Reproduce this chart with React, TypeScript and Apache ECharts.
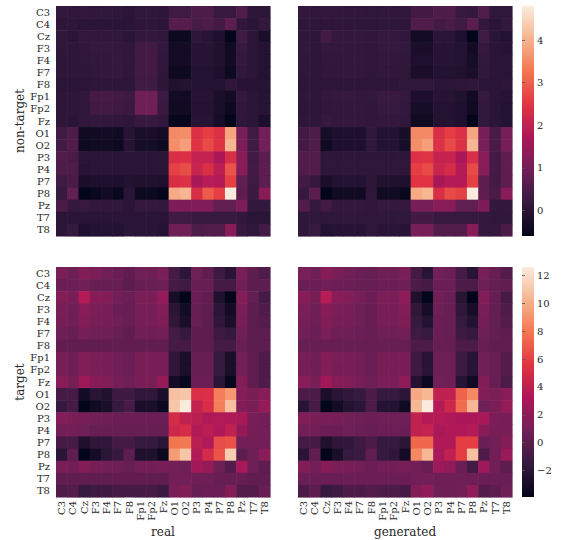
import React, { useEffect, useRef } from "react";
import * as echarts from "echarts";

const channels = ["C3","C4","Cz","F3","F4","F7","F8","Fp1","Fp2","Fz","O1","O2","P3","P4","P7","P8","Pz","T7","T8"];

const ntReal = [
  [0.12,0.1,0.12,0.1,0.08,0.08,0.02,0.08,0.08,0.05, 0.3,0.3, 0.5,0.5, 0.2,0.2, 0.55, 0.05,0.05],
  [0.05,0.05,0.0,0.0,0.0,0.0,0.0,0.05,0.05,0.0, 0.6,0.6, 0.4,0.5, 0.35,0.7, 0.1, 0.0,0.12],
  [0.08,0.02,0.15,0.12,0.1,0.1,0.02,0.12,0.12,0.08, -0.45,-0.45, 0.05,-0.05, -0.2,-0.6, 0.3, 0.0,-0.25],
  [0.08,0.05,0.1,0.15,0.15,0.12,0.08,0.35,0.35,0.12, -0.35,-0.35, -0.05,-0.05,-0.15,-0.4, 0.2, 0.02,-0.1],
  [0.06,0.05,0.08,0.12,0.12,0.15,0.1,0.35,0.35,0.1, -0.35,-0.35, -0.05,-0.05,-0.15,-0.35, 0.15, 0.02,-0.1],
  [0.05,0.05,0.05,0.1,0.12,0.15,0.08,0.35,0.35,0.08, -0.45,-0.45, -0.1,-0.1,-0.2,-0.45, 0.1, 0.0,-0.1],
  [0.0,0.0,0.02,0.05,0.05,0.05,0.05,0.3,0.3,0.05, -0.15,-0.1, -0.1,-0.1,-0.1,0.05, -0.05, -0.05,-0.05],
  [0.05,0.05,0.1,0.38,0.38,0.35,0.25,0.92,0.92,0.25, -0.35,-0.35, -0.05,-0.05,-0.25,-0.35, 0.15, 0.0,-0.05],
  [0.05,0.05,0.08,0.32,0.32,0.3,0.22,0.9,0.9,0.22, -0.4,-0.4, -0.08,-0.08,-0.25,-0.45, 0.1, 0.0,-0.05],
  [0.05,0.0,0.1,0.12,0.1,0.1,0.05,0.2,0.2,0.1, -0.55,-0.55, -0.05,-0.05,-0.3,-0.6, 0.08, 0.0,-0.25],
  [0.3,0.5,-0.4,-0.4,-0.35,-0.4,-0.05,-0.25,-0.25,-0.35, 3.5,3.55, 2.4,2.6,2.4,3.85, 1.05, 0.3,0.95],
  [0.35,0.55,-0.45,-0.4,-0.4,-0.45,-0.05,-0.3,-0.3,-0.45, 3.55,3.75, 2.45,2.75,2.45,4.05, 1.1, 0.3,0.95],
  [0.55,0.45,0.0,0.0,0.0,0.0,0.0,0.0,0.0,0.0, 2.35,2.4, 2.05,2.05,1.7,2.35, 1.25, 0.3,0.65],
  [0.5,0.5,-0.05,0.0,0.0,0.0,0.0,0.0,0.0,0.0, 2.65,2.8, 2.1,2.35,1.9,2.85, 1.25, 0.35,0.7],
  [0.3,0.45,-0.25,-0.2,-0.2,-0.2,-0.1,-0.15,-0.15,-0.2, 2.35,2.4, 1.65,1.85,1.8,2.65, 0.75, 0.3,0.7],
  [0.2,0.75,-0.6,-0.5,-0.35,-0.5,0.0,-0.45,-0.45,-0.58, 3.9,4.05, 2.35,2.95,2.65,4.8, 0.7, 0.25,1.25],
  [0.45,0.15,0.2,0.12,0.1,0.1,0.0,0.15,0.15,0.12, 1.1,1.1, 1.15,1.15,0.75,0.75, 1.1, 0.12,0.12],
  [0.0,0.0,0.0,0.0,0.0,0.0,0.0,0.0,0.0,0.0, 0.3,0.3, 0.2,0.2,0.2,0.2, 0.12, 0.0,0.0],
  [0.0,0.15,-0.2,-0.1,-0.1,-0.1,0.0,0.0,0.0,-0.1, 0.9,0.9, 0.5,0.55,0.55,1.25, 0.2, 0.08,0.35],
];

const ntGen = [
  [0.12,0.1,0.12,0.12,0.1,0.1,0.08,0.1,0.1,0.08, 0.35,0.35, 0.5,0.5, 0.2,0.15, 0.55, 0.08,0.08],
  [0.05,0.05,0.05,0.05,0.05,0.05,0.05,0.05,0.05,0.05, 0.55,0.55, 0.35,0.45, 0.3,0.65, 0.12, 0.02,0.12],
  [0.08,0.05,0.35,0.15,0.12,0.12,0.1,0.15,0.15,0.1, -0.35,-0.35, 0.0,0.0, -0.2,-0.6, 0.3, 0.02,-0.1],
  [0.1,0.05,0.15,0.15,0.12,0.12,0.1,0.15,0.15,0.12, -0.25,-0.25, -0.05,-0.05,-0.1,-0.35, 0.15, 0.0,-0.05],
  [0.08,0.05,0.12,0.12,0.12,0.12,0.1,0.12,0.12,0.1, -0.2,-0.2, -0.05,-0.05,-0.1,-0.3, 0.12, 0.0,0.0],
  [0.08,0.05,0.1,0.1,0.12,0.12,0.08,0.1,0.1,0.08, -0.25,-0.25, -0.1,-0.1,-0.15,-0.25, 0.1, 0.0,0.0],
  [0.05,0.05,0.05,0.05,0.05,0.05,0.05,0.05,0.05,0.08, 0.08,0.08, 0.0,0.0,0.05,0.08, 0.02, 0.02,0.05],
  [0.08,0.05,0.12,0.15,0.15,0.12,0.12,0.22,0.22,0.15, -0.2,-0.2, -0.05,-0.05,-0.15,-0.35, 0.15, 0.0,-0.05],
  [0.05,0.05,0.1,0.12,0.12,0.12,0.1,0.18,0.18,0.12, -0.3,-0.3, -0.08,-0.08,-0.2,-0.4, 0.12, 0.0,-0.1],
  [0.08,0.05,0.2,0.12,0.12,0.12,0.1,0.12,0.12,0.1, -0.4,-0.4, -0.1,-0.1,-0.2,-0.6, 0.12, 0.0,-0.1],
  [0.35,0.5,-0.3,-0.2,-0.2,-0.2,0.08,-0.1,-0.1,-0.3, 3.5,3.5, 2.35,2.6,2.4,3.85, 1.05, 0.45,1.0],
  [0.35,0.55,-0.4,-0.2,-0.2,-0.2,0.08,-0.1,-0.1,-0.3, 3.55,3.75, 2.4,2.75,2.4,4.05, 1.05, 0.45,1.0],
  [0.55,0.55,0.05,0.05,0.05,0.05,0.05,0.05,0.05,0.05, 2.4,2.45, 2.05,2.05,1.7,2.35, 1.25, 0.35,0.7],
  [0.55,0.55,0.05,0.05,0.05,0.05,0.05,0.05,0.05,0.05, 2.6,2.75, 2.1,2.3,1.8,2.75, 1.25, 0.35,0.7],
  [0.35,0.15,-0.25,-0.1,-0.1,-0.1,0.05,-0.15,-0.15,-0.2, 2.45,2.45, 1.65,1.8,1.8,2.65, 0.7, 0.35,0.7],
  [0.2,0.65,-0.6,-0.4,-0.4,-0.4,0.08,-0.4,-0.4,-0.5, 3.9,4.05, 2.35,2.75,2.65,4.8, 0.7, 0.45,1.25],
  [0.55,0.15,0.35,0.12,0.12,0.12,0.1,0.15,0.15,0.15, 1.0,1.0, 1.25,1.25,0.75,0.75, 1.1, 0.12,0.12],
  [0.08,0.08,0.08,0.08,0.08,0.08,0.08,0.08,0.08,0.08, 0.35,0.35, 0.2,0.2,0.2,0.2, 0.15, 0.08,0.08],
  [0.08,0.2,-0.1,-0.05,-0.05,-0.05,0.08,0.0,0.0,-0.05, 1.0,1.0, 0.55,0.55,0.55,1.25, 0.15, 0.15,0.45],
];

const tReal = [
  [1.2,0.7,1.5,1.2,0.9,0.6,0.2,0.7,0.7,1.2, -0.9,-1.9, 0.7,0.2, -1.2,-2.1, 1.2, 0.1,-0.5],
  [0.6,0.6,0.9,0.4,0.4,0.4,0.1,0.4,0.4,0.7, -0.9,-1.2, 0.4,0.4, -0.9,-0.9, 0.7, 0.1,0.1],
  [1.5,1.1,3.5,1.7,1.5,0.9,0.6,1.2,1.2,2.2, -3.0,-3.9, 0.6,0.2, -2.6,-3.9, 1.5, 0.3,-0.9],
  [1.2,0.7,1.7,1.2,1.1,0.6,0.4,1.1,1.1,1.5, -2.0,-3.1, 0.4,0.1, -2.0,-3.1, 1.2, 0.1,-0.5],
  [1.1,0.7,1.5,1.1,1.1,0.7,0.4,1.1,1.1,1.4, -1.8,-2.8, 0.4,0.1, -1.8,-2.8, 1.1, 0.1,-0.3],
  [0.7,0.4,1.1,0.7,0.7,0.4,0.2,0.7,0.7,0.9, -0.9,-1.5, 0.1,0.1, -1.2,-1.5, 0.7, 0.1,0.1],
  [0.2,0.2,0.2,0.2,0.2,0.2,0.2,0.2,0.2,0.2, -0.9,-0.9, 0.1,0.1, -0.9,-0.9, 0.4, 0.1,0.1],
  [1.1,0.7,1.5,1.2,1.1,0.9,0.6,1.2,1.2,1.2, -1.8,-2.8, 0.4,0.4, -1.5,-2.8, 0.9, 0.2,-0.5],
  [1.1,0.7,1.5,1.2,1.1,0.9,0.6,1.2,1.2,1.2, -1.8,-2.8, 0.4,0.4, -1.5,-2.8, 0.9, 0.2,-0.5],
  [1.7,1.1,2.6,1.7,1.5,1.1,0.7,1.2,1.2,2.2, -3.1,-3.7, 0.6,0.6, -2.0,-3.7, 1.5, 0.2,-0.5],
  [-0.9,-0.9,-3.1,-2.0,-2.5,-1.2,-1.2,-1.8,-1.8,-2.8, 10.8,11.0, 5.1,5.2,8.2,9.2, 1.5, 1.2,1.7],
  [-1.5,-0.9,-3.9,-3.3,-2.8,-1.5,-0.9,-2.8,-2.8,-3.5, 11.0,12.6, 4.2,5.1,8.2,10.8, 1.5, 1.2,2.2],
  [1.5,1.2,1.2,0.9,0.7,0.6,0.6,0.6,0.6,0.6, 4.9,4.0, 3.8,3.3,3.4,3.3, 3.0, 1.2,0.9],
  [0.9,0.9,0.7,0.4,0.4,0.4,0.4,0.4,0.4,0.4, 4.6,5.0, 3.4,3.8,3.3,4.0, 2.2, 1.1,0.9],
  [-0.9,-0.9,-2.6,-1.8,-1.8,-0.9,-0.9,-1.5,-1.5,-2.0, 7.9,8.0, 3.8,3.3,6.4,6.6, 0.9, 0.9,0.9],
  [-2.0,0.1,-3.9,-3.1,-2.0,-1.5,0.1,-2.6,-2.6,-3.5, 9.3,11.0, 3.4,4.9,6.7,11.3, 0.1, 0.7,1.7],
  [1.2,0.9,1.5,1.1,0.9,0.7,0.4,0.9,0.9,1.1, 0.9,0.7, 2.8,2.2, 0.7,-0.3, 3.0, 0.7,0.1],
  [0.2,0.2,0.2,0.2,0.2,0.2,0.2,0.2,0.2,0.2, 0.9,0.9, 0.7,0.7,0.4,0.4, 0.4, 0.2,0.2],
  [-0.5,-0.3,-1.5,-1.2,-1.2,-0.9,-0.9,-0.9,-0.9,-1.3, 1.2,1.5, 0.4,0.6,0.6,1.5, -0.3, -0.3,0.4],
];

const tGen = [
  [1.2,0.7,1.7,1.2,0.9,0.6,0.4,0.7,0.7,1.2, -0.9,-2.1, 0.9,0.6, -0.9,-2.1, 1.2, 0.4,-0.3],
  [0.6,0.6,0.9,0.6,0.6,0.4,0.4,0.6,0.6,0.7, -0.6,-0.9, 0.6,0.6, -0.6,-0.6, 0.7, 0.3,0.2],
  [1.7,1.1,3.6,1.7,1.5,1.1,0.6,1.2,1.2,2.0, -2.6,-3.9, 0.9,0.6, -2.1,-3.9, 1.5, 0.4,-0.9],
  [1.2,0.7,1.7,1.2,1.1,0.7,0.4,1.1,1.1,1.5, -1.8,-2.9, 0.7,0.4, -1.8,-2.9, 1.2, 0.3,-0.5],
  [1.1,0.7,1.5,1.1,1.1,0.7,0.4,1.1,1.1,1.4, -1.5,-2.4, 0.6,0.4, -1.5,-2.4, 1.1, 0.3,-0.3],
  [0.9,0.6,1.2,0.7,0.7,0.6,0.4,0.7,0.7,0.9, -1.2,-1.5, 0.6,0.4, -1.2,-1.5, 0.7, 0.3,0.1],
  [0.4,0.4,0.4,0.4,0.4,0.4,0.4,0.4,0.4,0.4, -0.6,-0.6, 0.4,0.4, -0.6,-0.6, 0.4, 0.2,0.2],
  [1.1,0.7,1.5,1.2,1.1,0.9,0.6,1.1,1.1,1.2, -1.2,-2.1, 0.7,0.7, -1.2,-2.1, 0.9, 0.4,-0.3],
  [1.1,0.7,1.5,1.1,1.1,0.9,0.6,1.1,1.1,1.2, -1.2,-2.1, 0.7,0.7, -1.2,-2.1, 0.9, 0.4,-0.3],
  [1.7,1.2,2.8,1.7,1.5,1.1,0.7,1.2,1.2,2.0, -2.4,-3.4, 0.9,0.7, -2.2,-3.3, 1.5, 0.4,-0.6],
  [-0.6,-0.6,-2.8,-2.0,-1.8,-1.5,-0.6,-1.5,-1.5,-2.0, 9.8,10.4, 4.0,4.0,7.2,8.6, 1.5, 1.2,1.7],
  [-2.1,-0.9,-3.9,-3.1,-2.4,-2.0,-0.6,-2.4,-2.4,-3.3, 10.4,12.6, 3.5,4.6,7.5,10.4, 0.7, 1.2,2.2],
  [1.5,1.2,1.2,1.1,0.9,0.7,0.6,0.7,0.7,0.7, 4.0,3.5, 3.5,3.3,3.1,3.1, 3.0, 1.2,1.1],
  [0.9,0.9,0.6,0.6,0.7,0.6,0.4,0.6,0.6,0.6, 4.0,4.2, 3.0,3.3,3.3,3.5, 1.7, 1.1,1.1],
  [-0.9,-0.9,-2.6,-1.8,-1.8,-1.2,-0.6,-1.5,-1.5,-2.0, 7.4,7.4, 3.3,3.3,5.9,5.9, 0.6, 0.9,1.5],
  [-2.0,0.2,-3.9,-2.8,-1.5,-1.3,0.2,-1.5,-1.8,-3.1, 8.6,10.4, 3.0,4.0,5.9,10.8, -0.6, 0.9,2.4],
  [1.5,0.9,1.7,1.2,1.1,0.9,0.6,0.9,0.9,1.1, 0.9,0.4, 2.6,2.0, 0.6,-0.9, 2.6, 0.7,0.1],
  [0.6,0.6,0.6,0.6,0.6,0.6,0.6,0.6,0.6,0.6, 0.9,0.9, 0.7,0.7,0.7,0.7, 0.6, 0.6,0.6],
  [-0.6,0.1,-1.5,-1.2,-0.6,-0.6,-0.3,-0.6,-0.6,-0.9, 1.5,2.0, 0.7,0.7,0.9,2.0, -0.3, 0.1,0.7],
];

const topRange = [-0.6, 4.8];
const bottomRange = [-3.9, 12.6];
const topTicks = [0, 1, 2, 3, 4];
const bottomTicks = [-2, 0, 2, 4, 6, 8, 10, 12];
const rowTitles = ["non-target", "target"];
const colTitles = ["real", "generated"];

const rocket = ["#03051A", "#35193E", "#701F57", "#AD1759", "#E13342", "#F37651", "#F6B48F", "#FAEBDD"];

const FONT = "DejaVu Serif";
const TXT = "#262626";

function toData(m: number[][]) {
  const out: number[][] = [];
  m.forEach((row, r) => row.forEach((v, c) => out.push([c, r, v])));
  return out;
}

export default function App() {
  const ref = useRef<HTMLDivElement>(null);
  useEffect(() => {
    if (!ref.current) return;
    const chart = echarts.init(ref.current, undefined, { renderer: "svg" });
    const H = 230, W = 214;
    const gridPos = [
      { left: 56, top: 6 },
      { left: 298, top: 6 },
      { left: 56, top: 267 },
      { left: 298, top: 267 },
    ];
    const grids: any[] = gridPos.map((p) => ({ left: p.left, top: p.top, width: W, height: H }));
    grids.push({ left: 522, top: 6, width: 12, height: H });
    grids.push({ left: 522, top: 267, width: 12, height: H });

    const xAxes: any[] = [0, 1, 2, 3].map((i) => ({
      type: "category",
      gridIndex: i,
      data: channels,
      axisLine: { show: false },
      axisTick: { show: false },
      splitLine: { show: false },
      axisLabel: {
        show: i >= 2,
        rotate: 90,
        interval: 0,
        fontFamily: FONT,
        fontSize: 10,
        color: TXT,
        margin: 4,
      },
      name: i >= 2 ? colTitles[i - 2] : "",
      nameLocation: "middle",
      nameGap: 29,
      nameTextStyle: { fontFamily: FONT, fontSize: 12, color: TXT },
    }));
    xAxes.push({ type: "value", gridIndex: 4, show: false, min: 0, max: 1 });
    xAxes.push({ type: "value", gridIndex: 5, show: false, min: 0, max: 1 });

    const yAxes: any[] = [0, 1, 2, 3].map((i) => ({
      type: "category",
      gridIndex: i,
      data: channels,
      inverse: true,
      axisLine: { show: false },
      axisTick: { show: false },
      splitLine: { show: false },
      axisLabel: {
        show: i % 2 === 0,
        interval: 0,
        fontFamily: FONT,
        fontSize: 10,
        color: TXT,
        margin: 6,
      },
      name: i % 2 === 0 ? rowTitles[i / 2] : "",
      nameLocation: "middle",
      nameRotate: 90,
      nameGap: 30,
      nameTextStyle: { fontFamily: FONT, fontSize: 12, color: TXT },
    }));
    const cbAxis = (gi: number, range: number[], ticks: number[]) => ({
      type: "value",
      gridIndex: gi,
      position: "right",
      min: range[0],
      max: range[1],
      axisLine: { show: false },
      splitLine: { show: false },
      axisTick: { show: true, length: 3, customValues: ticks, lineStyle: { color: "#555", width: 0.8 } },
      axisLabel: {
        show: true,
        customValues: ticks,
        margin: 3,
        fontFamily: FONT,
        fontSize: 10,
        color: TXT,
        formatter: (v: number) => String(v).replace("-", "\u2212"),
      },
    });
    yAxes.push(cbAxis(4, topRange, topTicks));
    yAxes.push(cbAxis(5, bottomRange, bottomTicks));

    const mats = [ntReal, ntGen, tReal, tGen];
    const series: any[] = mats.map((m, i) => ({
      type: "custom",
      xAxisIndex: i,
      yAxisIndex: i,
      data: toData(m),
      encode: { x: 0, y: 1 },
      silent: true,
      renderItem: (params: any, api: any) => {
        const p = api.coord([api.value(0), api.value(1)]);
        const s = api.size([1, 1]);
        return {
          type: "rect",
          shape: { x: p[0] - s[0] / 2, y: p[1] - s[1] / 2, width: s[0] + 0.6, height: s[1] + 0.6 },
          style: { fill: api.visual("color") },
        };
      },
    }));

    const grad = (y0: number) => ({
      type: "rect",
      shape: { x: 522, y: y0, width: 12, height: H },
      style: {
        fill: {
          type: "linear",
          x: 0, y: 1, x2: 0, y2: 0,
          colorStops: rocket.map((c, k) => ({ offset: k / (rocket.length - 1), color: c })),
        },
      },
      silent: true,
    });

    chart.setOption({
      animation: false,
      backgroundColor: "#ffffff",
      grid: grids,
      xAxis: xAxes,
      yAxis: yAxes,
      visualMap: [
        { type: "continuous", show: false, seriesIndex: [0, 1], dimension: 2, min: topRange[0], max: topRange[1], inRange: { color: rocket } },
        { type: "continuous", show: false, seriesIndex: [2, 3], dimension: 2, min: bottomRange[0], max: bottomRange[1], inRange: { color: rocket } },
      ],
      graphic: [grad(6), grad(267)],
      series,
    });
    return () => chart.dispose();
  }, []);
  return <div ref={ref} style={{ position: "fixed", left: 0, top: 0, width: 566, height: 540, background: "#fff" }} />;
}
